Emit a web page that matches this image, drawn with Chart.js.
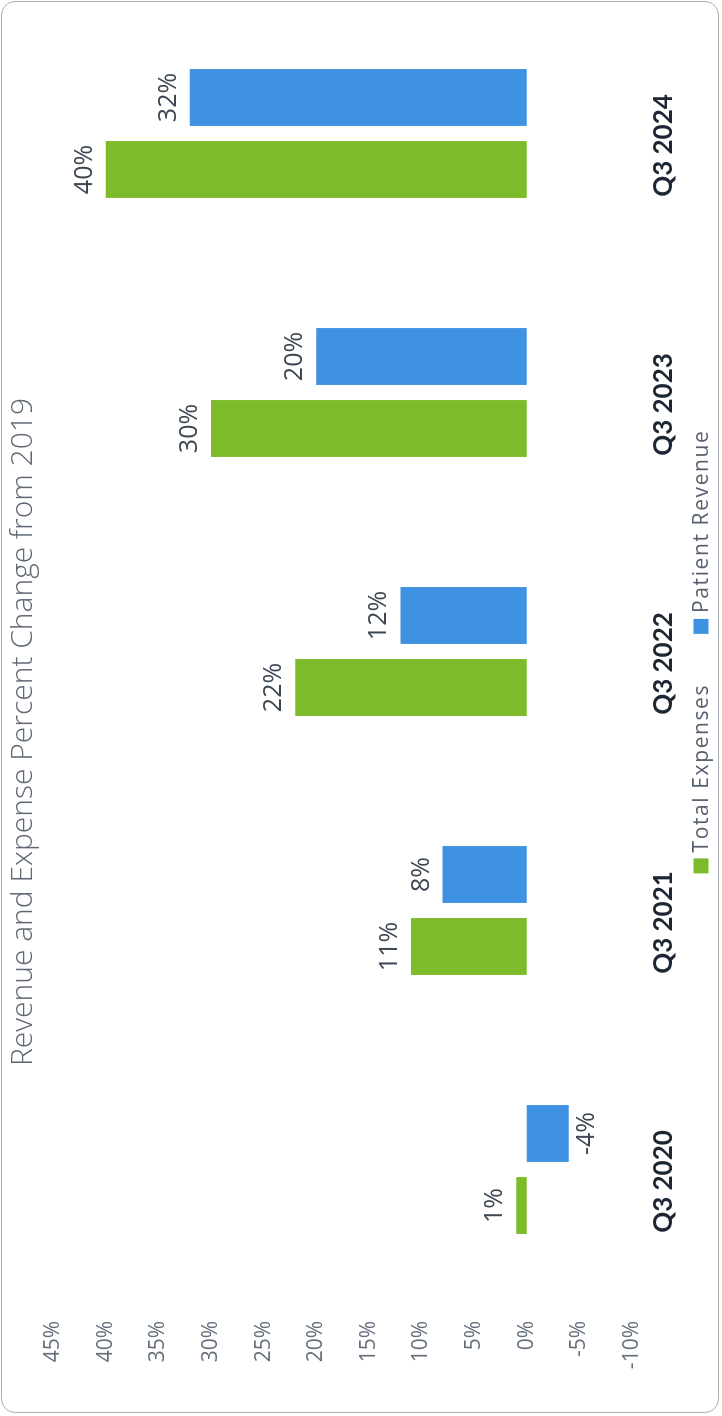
<!DOCTYPE html>
<html>
<head>
<meta charset="utf-8">
<title>Revenue and Expense Percent Change from 2019</title>
<script src="https://cdn.jsdelivr.net/npm/chart.js@4.4.1/dist/chart.umd.min.js"></script>
<style>
  html, body { margin: 0; padding: 0; background: #ffffff; }
  body { width: 722px; height: 1416px; position: relative; overflow: hidden; }
  .frame {
    position: absolute; left: 1px; top: 1px; width: 718px; height: 1412px;
    border: 1px solid #a9b0bb; border-radius: 14px; box-sizing: border-box;
  }
  /* chart is laid out landscape, then turned to read bottom-to-top */
  .chart_box {
    position: absolute; left: 0; top: 0; width: 1416px; height: 722px;
    transform-origin: top left;
    transform: translateY(1416px) rotate(-90deg);
  }
</style>
</head>
<body>
<div class="frame"></div>
<div class="chart_box"><canvas id="changeChart"></canvas></div>

<script>
"use strict";

// Data
const quarters = ["Q3 2020", "Q3 2021", "Q3 2022", "Q3 2023", "Q3 2024"];
const totalExpenses = [1, 11, 22, 30, 40];
const patientRevenue = [-4, 8, 12, 20, 32];
const axisMin = -10;
const axisMax = 45;
const axisStep = 5;

const GREEN = "#7cbb2a";
const BLUE = "#3f92e1";
const CHART_TITLE = "Revenue and Expense Percent Change from 2019";

// Value labels at the end of each bar
const barValueLabels = {
  id: "barValueLabels",
  afterDatasetsDraw(chart) {
    const ctx = chart.ctx;
    ctx.save();
    ctx.font = "25px 'Open Sans'";
    ctx.fillStyle = "#3c4753";
    ctx.textAlign = "center";
    chart.data.datasets.forEach((ds, i) => {
      chart.getDatasetMeta(i).data.forEach((bar, j) => {
        const v = ds.data[j];
        if (v >= 0) {
          ctx.textBaseline = "alphabetic";
          ctx.fillText(v + "%", bar.x, bar.y - 14);
        } else {
          ctx.textBaseline = "top";
          ctx.fillText(v + "%", bar.x, bar.y + 6);
        }
      });
    });
    ctx.restore();
  },
};

// Title and spaced-out legend, drawn by hand
const headingAndKey = {
  id: "headingAndKey",
  afterDraw(chart) {
    const ctx = chart.ctx;
    const area = chart.chartArea;
    ctx.save();

    ctx.font = "300 30px 'Open Sans'";
    ctx.fillStyle = "#5f6873";
    ctx.textAlign = "center";
    ctx.textBaseline = "middle";
    ctx.fillText(CHART_TITLE, 684, 23);

    const spacing = 1.6;
    const box = 15;
    const gap = 6;
    const itemGap = 50;
    ctx.font = "21px 'Open Sans'";
    const items = chart.data.datasets.map((ds) => ({
      text: ds.label,
      color: ds.backgroundColor,
      w: ctx.measureText(ds.label).width + spacing * ds.label.length,
    }));
    let total = items.reduce((s, it) => s + box + gap + it.w, 0) + itemGap * (items.length - 1);
    let x = (area.left + area.right) / 2 - total / 2;
    const y = 701;
    ctx.letterSpacing = spacing + "px";
    ctx.textAlign = "left";
    items.forEach((it) => {
      ctx.fillStyle = it.color;
      ctx.fillRect(x, y - box / 2, box, box);
      x += box + gap;
      ctx.fillStyle = "#55606c";
      ctx.fillText(it.text, x, y + 1);
      x += it.w + itemGap;
    });
    ctx.restore();
  },
};

const changeCtx = document.getElementById("changeChart").getContext("2d");

new Chart(changeCtx, {
  type: "bar",
  data: {
    labels: quarters,
    datasets: [
      {
        label: "Total Expenses",
        data: totalExpenses,
        backgroundColor: GREEN,
        categoryPercentage: 0.556,
        barPercentage: 0.79,
      },
      {
        label: "Patient Revenue",
        data: patientRevenue,
        backgroundColor: BLUE,
        categoryPercentage: 0.556,
        barPercentage: 0.79,
      },
    ],
  },
  options: {
    responsive: true,
    maintainAspectRatio: false,
    animation: false,
    layout: { padding: { left: 0, right: 4, top: 53, bottom: 38 } },
    plugins: {
      title: { display: false },
      legend: { display: false },
      tooltip: { enabled: false },
    },
    scales: {
      x: {
        grid: { display: false, drawTicks: false },
        border: { display: false },
        ticks: {
          color: "#1c2733",
          padding: 16,
          labelOffset: -12,
          font: { family: "Lato", size: 26, weight: "bold" },
        },
        afterFit(scale) {
          scale.height = 52;
        },
      },
      y: {
        min: axisMin,
        max: axisMax,
        grid: { display: false, drawTicks: false },
        border: { display: false },
        ticks: {
          stepSize: axisStep,
          color: "#65707c",
          padding: 22,
          font: { family: "'Open Sans'", size: 21 },
          callback: (v) => v + "%",
        },
        afterFit(scale) {
          scale.width = 117;
        },
      },
    },
  },
  plugins: [barValueLabels, headingAndKey],
});
</script>
</body>
</html>
